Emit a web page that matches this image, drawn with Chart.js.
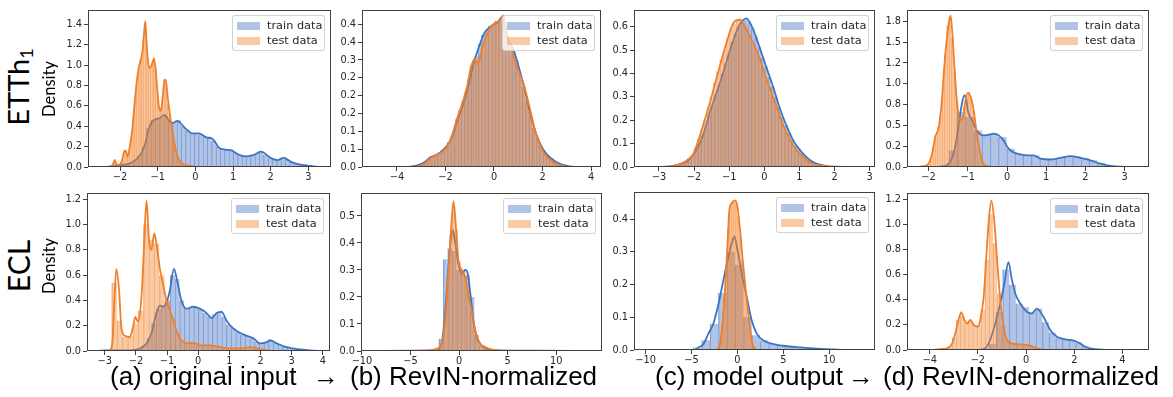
<!DOCTYPE html>
<html>
<head>
<meta charset="utf-8">
<script src="https://cdn.jsdelivr.net/npm/chart.js@4.4.0/dist/chart.umd.min.js"></script>
<style>
  html, body { margin: 0; padding: 0; background: #fff; }
  #page { position: relative; width: 1173px; height: 397px; overflow: hidden; }
  #page canvas { position: absolute; }
  .legend { position: absolute; width: 91px; height: 34px; border: 1px solid rgba(200,200,200,0.8); border-radius: 3px;
            background: rgba(255,255,255,0.8); font-family: "DejaVu Sans", sans-serif; font-size: 11.3px; color: #262626; }
  .legend .sw { position: absolute; left: 4px; width: 23px; height: 8px; }
  .legend .tx { position: absolute; left: 34px; line-height: 13px; white-space: nowrap; }
  .side { position: absolute; white-space: nowrap; font-family: Lato, "Open Sans", sans-serif; color: #000; transform: translate(-50%, -50%) rotate(-90deg); }
  .cap { position: absolute; top: 363px; font-family: "Liberation Sans", Arial, sans-serif; font-size: 26px; line-height: 26px; white-space: nowrap; color: #000; }
</style>
</head>
<body>
<div id="page"></div>
<script>
// ---------- data ----------
const seriesNames = ['train data', 'test data'];

// ETTh1 (a) original input
const p1XTicks = [-2, -1, 0, 1, 2, 3];
const p1YTicks = [0, 0.2, 0.4, 0.6, 0.8, 1.0, 1.2, 1.4];
const p1TrainStart = -2.45, p1TrainStep = 0.115;
const p1TrainHist = [0.003, 0.005, 0.01, 0.015, 0.02, 0.03, 0.04, 0.07, 0.12, 0.2, 0.38, 0.46, 0.47, 0.48, 0.5, 0.45, 0.44, 0.46, 0.4, 0.36,
  0.33, 0.33, 0.32, 0.3, 0.29, 0.26, 0.2, 0.18, 0.17, 0.16, 0.15, 0.12, 0.11, 0.11, 0.12, 0.14, 0.15, 0.12, 0.09, 0.08,
  0.07, 0.09, 0.08, 0.05, 0.03, 0.025, 0.02, 0.015, 0.01, 0.005];
const p1TestStart = -2.22, p1TestStep = 0.046;
const p1TestHist = [0.02, 0.06, 0.05, 0.02, 0.03, 0.05, 0.08, 0.15, 0.17, 0.1, 0.2, 0.3, 0.48, 0.65, 0.82, 0.95, 1.05, 1.1, 1.25, 1.4,
  1.15, 1.0, 0.98, 1.02, 1.08, 0.95, 0.72, 0.58, 0.56, 0.7, 0.85, 0.82, 0.62, 0.52, 0.4, 0.3, 0.2, 0.12, 0.08, 0.05,
  0.04, 0.03, 0.02, 0.02, 0.01, 0.01, 0.01, 0.005, 0.003, 0.002];
const p1TrainKde = [[-2.5,0],[-2.3,0.004],[-2.14,0.01],[-1.95,0.02],[-1.78,0.03],[-1.6,0.065],[-1.48,0.11],[-1.4,0.16],[-1.33,0.23],[-1.25,0.36],
  [-1.16,0.44],[-1.05,0.47],[-0.95,0.48],[-0.82,0.51],[-0.71,0.46],[-0.6,0.43],[-0.5,0.45],[-0.42,0.44],[-0.3,0.39],[-0.18,0.35],[-0.09,0.33],
  [0.09,0.33],[0.2,0.31],[0.3,0.29],[0.44,0.28],[0.55,0.23],[0.62,0.19],[0.8,0.17],[0.98,0.16],[1.1,0.13],[1.2,0.115],[1.33,0.105],[1.51,0.115],
  [1.62,0.13],[1.73,0.15],[1.8,0.145],[1.9,0.115],[2.05,0.08],[2.18,0.068],[2.3,0.085],[2.36,0.09],[2.45,0.07],[2.54,0.05],[2.65,0.035],
  [2.76,0.025],[3.02,0.012],[3.2,0.004],[3.35,0]];
const p1TestKde = [[-2.3,0],[-2.22,0.01],[-2.17,0.04],[-2.14,0.07],[-2.1,0.03],[-2.03,0.02],[-1.95,0.06],[-1.88,0.16],[-1.84,0.15],[-1.8,0.1],
  [-1.74,0.2],[-1.68,0.35],[-1.62,0.6],[-1.56,0.82],[-1.5,0.98],[-1.45,1.05],[-1.4,1.15],[-1.36,1.32],[-1.33,1.43],[-1.3,1.25],[-1.26,1.05],
  [-1.21,0.97],[-1.16,1.0],[-1.1,1.06],[-1.06,0.98],[-1.02,0.8],[-0.97,0.6],[-0.92,0.55],[-0.87,0.68],[-0.82,0.86],[-0.78,0.84],[-0.73,0.67],
  [-0.67,0.5],[-0.6,0.33],[-0.54,0.2],[-0.47,0.1],[-0.4,0.05],[-0.3,0.025],[-0.2,0.015],[-0.1,0.008],[0,0.003],[0.1,0]];

// ETTh1 (b) RevIN-normalized
const p2XTicks = [-4, -2, 0, 2, 4];
const p2YTicks = [0, 0.05, 0.1, 0.15, 0.2, 0.25, 0.3, 0.35, 0.4];
const p2YLabels = ['0.0', '0.1', '0.1', '0.2', '0.2', '0.2', '0.3', '0.4', '0.4'];
const p2TrainStart = -3.6, p2TrainStep = 0.14;
const p2TrainHist = [0.001, 0.002, 0.003, 0.006, 0.01, 0.016, 0.022, 0.03, 0.034, 0.04, 0.048, 0.056, 0.07, 0.09, 0.118, 0.145, 0.175, 0.205, 0.245, 0.285,
  0.31, 0.345, 0.37, 0.38, 0.395, 0.4, 0.41, 0.41, 0.4, 0.37, 0.345, 0.325, 0.3, 0.26, 0.225, 0.185, 0.145, 0.11, 0.085, 0.06,
  0.045, 0.033, 0.024, 0.016, 0.01, 0.007, 0.004, 0.002, 0.001, 0.001];
const p2TestStart = -3.15, p2TestStep = 0.12;
const p2TestHist = [0.002, 0.005, 0.01, 0.016, 0.024, 0.03, 0.034, 0.038, 0.044, 0.05, 0.062, 0.08, 0.1, 0.135, 0.16, 0.185, 0.21, 0.245, 0.285, 0.305,
  0.295, 0.315, 0.345, 0.37, 0.385, 0.395, 0.405, 0.405, 0.415, 0.42, 0.385, 0.345, 0.315, 0.3, 0.27, 0.25, 0.23, 0.19, 0.16, 0.13,
  0.1, 0.075, 0.055, 0.04, 0.03, 0.02, 0.015, 0.01, 0.006, 0.003];
const p2TrainKde = [[-3.6,0],[-3.2,0.004],[-2.9,0.012],[-2.6,0.028],[-2.35,0.035],[-2.0,0.054],[-1.75,0.08],[-1.53,0.125],[-1.3,0.17],[-1.1,0.214],
  [-0.84,0.29],[-0.6,0.34],[-0.4,0.375],[-0.2,0.39],[0,0.4],[0.15,0.405],[0.33,0.42],[0.45,0.385],[0.6,0.355],[0.81,0.327],[1.0,0.285],
  [1.22,0.23],[1.5,0.148],[1.7,0.1],[1.91,0.064],[2.1,0.042],[2.32,0.026],[2.74,0.008],[3.1,0.002],[3.5,0]];
const p2TestKde = [[-3.2,0],[-2.9,0.008],[-2.6,0.025],[-2.35,0.035],[-2.0,0.05],[-1.75,0.085],[-1.53,0.134],[-1.3,0.18],[-1.1,0.228],[-0.95,0.28],
  [-0.78,0.303],[-0.65,0.29],[-0.5,0.33],[-0.3,0.37],[-0.1,0.395],[0.1,0.405],[0.25,0.41],[0.38,0.425],[0.5,0.39],[0.65,0.34],[0.81,0.31],
  [1.0,0.27],[1.22,0.233],[1.5,0.158],[1.7,0.1],[1.91,0.059],[2.1,0.035],[2.32,0.02],[2.6,0.008],[2.9,0.002],[3.1,0]];

// ETTh1 (c) model output
const p3XTicks = [-3, -2, -1, 0, 1, 2, 3];
const p3YTicks = [0, 0.1, 0.2, 0.3, 0.4, 0.5, 0.6];
const p3TrainStart = -2.75, p3TrainStep = 0.095;
const p3TrainHist = [0.003, 0.004, 0.006, 0.01, 0.016, 0.024, 0.033, 0.045, 0.07, 0.1, 0.135, 0.17, 0.22, 0.26, 0.31, 0.35, 0.4, 0.445, 0.49, 0.535,
  0.57, 0.605, 0.625, 0.63, 0.62, 0.595, 0.56, 0.515, 0.47, 0.43, 0.385, 0.345, 0.3, 0.255, 0.215, 0.18, 0.145, 0.115, 0.092, 0.072,
  0.057, 0.043, 0.03, 0.021, 0.015, 0.01, 0.007, 0.004, 0.003, 0.002];
const p3TestStart = -2.65, p3TestStep = 0.092;
const p3TestHist = [0.004, 0.007, 0.011, 0.018, 0.026, 0.037, 0.05, 0.08, 0.12, 0.16, 0.2, 0.255, 0.3, 0.36, 0.41, 0.46, 0.5, 0.55, 0.59, 0.615,
  0.63, 0.63, 0.61, 0.59, 0.56, 0.52, 0.49, 0.455, 0.415, 0.375, 0.335, 0.3, 0.26, 0.22, 0.18, 0.15, 0.12, 0.097, 0.076, 0.058,
  0.045, 0.033, 0.024, 0.016, 0.011, 0.008, 0.005, 0.004, 0.002, 0.001];
const p3TrainKde = [[-3.0,0],[-2.7,0.003],[-2.5,0.008],[-2.32,0.016],[-2.15,0.03],[-2.03,0.05],[-1.84,0.1],[-1.7,0.155],[-1.56,0.23],[-1.4,0.3],
  [-1.27,0.357],[-1.1,0.44],[-0.89,0.54],[-0.7,0.61],[-0.51,0.636],[-0.35,0.6],[-0.13,0.51],[0.05,0.43],[0.25,0.343],[0.4,0.27],[0.53,0.214],
  [0.68,0.16],[0.82,0.114],[0.95,0.085],[1.1,0.057],[1.25,0.036],[1.39,0.021],[1.55,0.011],[1.77,0.004],[2.0,0.001],[2.4,0]];
const p3TestKde = [[-3.0,0],[-2.6,0.004],[-2.32,0.018],[-2.15,0.035],[-2.03,0.054],[-1.84,0.13],[-1.7,0.2],[-1.56,0.27],[-1.4,0.36],[-1.27,0.43],
  [-1.1,0.52],[-0.89,0.614],[-0.7,0.631],[-0.55,0.6],[-0.35,0.54],[-0.13,0.464],[0.05,0.38],[0.25,0.3],[0.4,0.235],[0.53,0.18],[0.68,0.13],
  [0.82,0.093],[0.95,0.065],[1.1,0.043],[1.25,0.026],[1.39,0.014],[1.6,0.006],[1.9,0.002],[2.3,0]];

// ETTh1 (d) RevIN-denormalized
const p4XTicks = [-2, -1, 0, 1, 2, 3];
const p4YTicks = [0, 0.25, 0.5, 0.75, 1.0, 1.25, 1.5, 1.75];
const p4YLabels = ['0.0', '0.2', '0.5', '0.8', '1.0', '1.2', '1.5', '1.8'];
const p4TrainStart = -1.69, p4TrainStep = 0.21;
const p4TrainHist = [0.02, 0.2, 0.66, 0.6, 0.44, 0.39, 0.4, 0.36, 0.22, 0.16, 0.14, 0.14, 0.1, 0.09, 0.11, 0.13, 0.13, 0.11, 0.08, 0.05,
  0.02, 0.008, 0.004, 0.002];
const p4TestStart = -2.2, p4TestStep = 0.06;
const p4TestHist = [0.005, 0.01, 0.02, 0.05, 0.12, 0.25, 0.38, 0.48, 0.62, 0.95, 1.35, 1.7, 1.8, 1.55, 1.15, 0.78, 0.58, 0.56, 0.72, 0.85,
  0.9, 0.82, 0.68, 0.45, 0.25, 0.12, 0.05, 0.02, 0.01, 0.005];
const p4TrainKde = [[-1.8,0],[-1.62,0.01],[-1.45,0.06],[-1.32,0.24],[-1.23,0.52],[-1.15,0.76],[-1.09,0.86],[-1.04,0.82],[-1.0,0.68],[-0.89,0.56],
  [-0.77,0.44],[-0.6,0.38],[-0.45,0.39],[-0.34,0.4],[-0.21,0.38],[-0.09,0.32],[0.04,0.22],[0.15,0.18],[0.26,0.16],[0.51,0.14],[0.68,0.14],
  [0.85,0.1],[1.1,0.09],[1.36,0.11],[1.62,0.13],[1.87,0.11],[2.13,0.08],[2.38,0.04],[2.64,0.012],[2.89,0.003],[3.3,0]];
const p4TestKde = [[-2.3,0],[-2.13,0.01],[-2.0,0.04],[-1.91,0.16],[-1.83,0.36],[-1.74,0.48],[-1.66,0.8],[-1.6,1.2],[-1.53,1.56],[-1.48,1.74],
  [-1.44,1.82],[-1.4,1.65],[-1.34,1.2],[-1.28,0.8],[-1.19,0.56],[-1.12,0.6],[-1.06,0.8],[-1.0,0.89],[-0.94,0.86],[-0.85,0.68],[-0.77,0.4],
  [-0.68,0.16],[-0.6,0.04],[-0.47,0.008],[-0.34,0]];

// ECL (a) original input
const p5XTicks = [-3, -2, -1, 0, 1, 2, 3, 4];
const p5YTicks = [0, 0.2, 0.4, 0.6, 0.8, 1.0, 1.2];
const p5TrainStart = -3.3, p5TrainStep = 0.15;
const p5TrainHist = [0.002, 0.003, 0.003, 0.004, 0.004, 0.005, 0.006, 0.008, 0.012, 0.02, 0.045, 0.1, 0.22, 0.33, 0.36, 0.4, 0.6, 0.57, 0.4, 0.34,
  0.35, 0.34, 0.33, 0.3, 0.27, 0.29, 0.31, 0.27, 0.21, 0.18, 0.15, 0.13, 0.12, 0.1, 0.075, 0.06, 0.07, 0.085, 0.065, 0.05,
  0.035, 0.025, 0.018, 0.013, 0.009, 0.005, 0.003, 0.002];
const p5TestStart = -2.78, p5TestStep = 0.17;
const p5TestHist = [0.54, 0.24, 0.11, 0.12, 0.22, 0.32, 1.0, 0.88, 0.85, 0.6, 0.4, 0.26, 0.14, 0.08, 0.06, 0.06, 0.05, 0.045, 0.045, 0.04,
  0.03, 0.025, 0.02, 0.02, 0.02, 0.025, 0.03, 0.02, 0.01, 0.005];
const p5TrainKde = [[-3.3,0],[-3.0,0.004],[-2.3,0.005],[-1.88,0.02],[-1.66,0.06],[-1.5,0.14],[-1.34,0.3],[-1.23,0.36],[-1.13,0.35],[-1.02,0.38],
  [-0.91,0.48],[-0.78,0.65],[-0.68,0.56],[-0.54,0.4],[-0.38,0.335],[-0.16,0.35],[0.05,0.335],[0.27,0.3],[0.43,0.26],[0.59,0.3],[0.75,0.31],
  [0.91,0.24],[1.07,0.19],[1.29,0.15],[1.5,0.125],[1.77,0.1],[1.98,0.06],[2.2,0.07],[2.3,0.085],[2.52,0.06],[2.84,0.03],[3.27,0.013],
  [3.7,0.003],[3.9,0]];
const p5TestKde = [[-2.9,0],[-2.84,0.005],[-2.75,0.08],[-2.7,0.35],[-2.63,0.65],[-2.54,0.48],[-2.47,0.19],[-2.36,0.12],[-2.2,0.11],[-2.09,0.19],
  [-2.02,0.27],[-1.93,0.23],[-1.82,0.43],[-1.74,0.82],[-1.66,1.19],[-1.58,0.88],[-1.5,0.8],[-1.41,0.93],[-1.34,0.85],[-1.23,0.65],[-1.13,0.53],
  [-1.02,0.4],[-0.91,0.32],[-0.8,0.24],[-0.7,0.16],[-0.54,0.085],[-0.38,0.06],[-0.16,0.065],[0.05,0.045],[0.38,0.045],[0.7,0.03],[1.02,0.02],
  [1.34,0.02],[1.66,0.03],[1.88,0.02],[2.2,0.005],[2.52,0]];

// ECL (b) RevIN-normalized
const p6XTicks = [-10, -5, 0, 5, 10];
const p6YTicks = [0, 0.1, 0.2, 0.3, 0.4, 0.5];
const p6TrainStart = -2.56, p6TrainStep = 0.46;
const p6TrainHist = [0.003, 0.045, 0.34, 0.38, 0.37, 0.3, 0.3, 0.28, 0.2, 0.06, 0.02, 0.008, 0.003];
const p6TestStart = -3.1, p6TestStep = 0.3;
const p6TestHist = [0.002, 0.004, 0.008, 0.015, 0.04, 0.12, 0.27, 0.43, 0.54, 0.45, 0.33, 0.3, 0.28, 0.22, 0.15, 0.09, 0.05, 0.03, 0.02, 0.013,
  0.008, 0.005, 0.003, 0.001];
const p6TrainKde = [[-9.2,0],[-5,0.001],[-2.3,0.002],[-1.79,0.03],[-1.44,0.14],[-1.2,0.26],[-0.93,0.385],[-0.65,0.447],[-0.41,0.4],[-0.07,0.32],
  [0.27,0.286],[0.62,0.3],[0.86,0.29],[1.13,0.22],[1.48,0.11],[1.82,0.05],[2.34,0.02],[2.85,0.008],[3.88,0.002],[8,0.001],[13.6,0]];
const p6TestKde = [[-4.5,0],[-3.33,0.002],[-1.96,0.015],[-1.44,0.11],[-1.1,0.29],[-0.86,0.435],[-0.58,0.555],[-0.31,0.447],[-0.07,0.336],[0.27,0.3],
  [0.62,0.274],[0.96,0.21],[1.31,0.14],[1.65,0.077],[2.16,0.027],[2.68,0.015],[3.2,0.007],[4.23,0.001],[5,0]];

// ECL (c) model output
const p7XTicks = [-10, -5, 0, 5, 10];
const p7YTicks = [0, 0.1, 0.2, 0.3, 0.4];
const p7TrainStart = -4.8, p7TrainStep = 0.91;
const p7TrainHist = [0.008, 0.03, 0.08, 0.175, 0.3, 0.26, 0.1, 0.045, 0.03, 0.02, 0.015, 0.012, 0.009, 0.007, 0.005, 0.003, 0.002, 0.001, 0.001];
const p7TestStart = -2.2, p7TestStep = 0.22;
const p7TestHist = [0.003, 0.02, 0.08, 0.16, 0.26, 0.37, 0.44, 0.45, 0.455, 0.45, 0.41, 0.35, 0.28, 0.22, 0.16, 0.1, 0.05, 0.02, 0.006, 0.002];
const p7TrainKde = [[-4.62,0],[-4.25,0.008],[-3.7,0.018],[-3.16,0.05],[-2.62,0.08],[-2.07,0.14],[-1.53,0.213],[-0.98,0.285],[-0.62,0.326],
  [-0.33,0.347],[0,0.306],[0.47,0.234],[1.02,0.162],[1.56,0.09],[2.11,0.05],[2.84,0.029],[3.93,0.018],[5.02,0.013],[6.84,0.008],[8.65,0.004],
  [10.47,0.002],[11.93,0]];
const p7TestKde = [[-2.25,0],[-1.89,0.018],[-1.6,0.09],[-1.35,0.183],[-1.09,0.316],[-0.87,0.43],[-0.62,0.449],[-0.25,0.457],[0,0.439],[0.29,0.367],
  [0.58,0.275],[0.91,0.183],[1.27,0.09],[1.56,0.029],[1.93,0.003],[2.29,0]];

// ECL (d) RevIN-denormalized
const p8XTicks = [-4, -2, 0, 2, 4];
const p8YTicks = [0, 0.2, 0.4, 0.6, 0.8, 1.0, 1.2];
const p8TrainStart = -1.8, p8TrainStep = 0.275;
const p8TrainHist = [0.01, 0.05, 0.3, 0.64, 0.52, 0.37, 0.34, 0.3, 0.33, 0.22, 0.14, 0.1, 0.085, 0.08, 0.06, 0.03, 0.01, 0.004, 0.002];
const p8TestStart = -3.75, p8TestStep = 0.17;
const p8TestHist = [0.004, 0.008, 0.012, 0.03, 0.1, 0.24, 0.27, 0.22, 0.23, 0.2, 0.2, 0.32, 0.72, 1.08, 0.85, 0.45, 0.2, 0.08, 0.055, 0.05,
  0.045, 0.04, 0.035, 0.03, 0.015, 0.006, 0.002];
const p8TrainKde = [[-2.04,0],[-1.69,0.013],[-1.49,0.08],[-1.28,0.21],[-1.07,0.37],[-0.9,0.53],[-0.73,0.7],[-0.59,0.56],[-0.45,0.45],[-0.24,0.37],
  [0.03,0.305],[0.24,0.29],[0.45,0.33],[0.59,0.305],[0.79,0.24],[1.0,0.16],[1.28,0.106],[1.62,0.085],[1.97,0.074],[2.24,0.053],[2.45,0.026],
  [2.8,0.008],[3.35,0]];
const p8TestKde = [[-3.9,0],[-3.69,0.005],[-3.28,0.013],[-3.07,0.05],[-2.94,0.13],[-2.8,0.24],[-2.69,0.3],[-2.56,0.24],[-2.45,0.21],[-2.31,0.24],
  [-2.17,0.2],[-2.01,0.185],[-1.9,0.24],[-1.76,0.42],[-1.65,0.74],[-1.56,1.0],[-1.44,1.19],[-1.32,1.03],[-1.21,0.74],[-1.07,0.4],[-0.93,0.185],
  [-0.79,0.08],[-0.59,0.053],[-0.24,0.045],[0.17,0.034],[0.45,0.013],[0.72,0.003],[1.0,0]];

// ---------- styling ----------
const BLUE_FILL = 'rgba(68,114,196,0.42)';
const BLUE_EDGE = 'rgba(68,114,196,0.55)';
const BLUE_LINE = '#3d74c2';
const ORANGE_FILL = 'rgba(242,128,40,0.42)';
const ORANGE_EDGE = 'rgba(242,128,40,0.5)';
const ORANGE_LINE = '#ef7f2a';
const FRAME = '#404040';
const TICK_TEXT = '#262626';
const TICK_FONT = { family: 'DejaVu Sans', size: 9.8 };

// plot boxes [left, top, right, bottom] in page pixels
const panels = [
  { box: [88, 10, 331, 167], xMin: -2.85, xMax: 3.6, yMax: 1.54, xTicks: p1XTicks, yTicks: p1YTicks,
    train: [p1TrainStart, p1TrainStep, p1TrainHist, p1TrainKde], test: [p1TestStart, p1TestStep, p1TestHist, p1TestKde] },
  { box: [362, 10, 601, 167], xMin: -5.44, xMax: 4.41, yMax: 0.44, xTicks: p2XTicks, yTicks: p2YTicks, yLabels: p2YLabels,
    train: [p2TrainStart, p2TrainStep, p2TrainHist, p2TrainKde], test: [p2TestStart, p2TestStep, p2TestHist, p2TestKde] },
  { box: [634, 10, 875, 167], xMin: -3.71, xMax: 3.15, yMax: 0.672, xTicks: p3XTicks, yTicks: p3YTicks,
    train: [p3TrainStart, p3TrainStep, p3TrainHist, p3TrainKde], test: [p3TestStart, p3TestStep, p3TestHist, p3TestKde] },
  { box: [907, 10, 1149, 167], xMin: -2.55, xMax: 3.62, yMax: 1.887, xTicks: p4XTicks, yTicks: p4YTicks, yLabels: p4YLabels,
    train: [p4TrainStart, p4TrainStep, p4TrainHist, p4TrainKde], test: [p4TestStart, p4TestStep, p4TestHist, p4TestKde] },
  { box: [87, 193, 330, 351], xMin: -3.57, xMax: 4.23, yMax: 1.25, xTicks: p5XTicks, yTicks: p5YTicks,
    train: [p5TrainStart, p5TrainStep, p5TrainHist, p5TrainKde], test: [p5TestStart, p5TestStep, p5TestHist, p5TestKde] },
  { box: [361, 193, 602, 351], xMin: -10.1, xMax: 14.7, yMax: 0.585, xTicks: p6XTicks, yTicks: p6YTicks,
    train: [p6TrainStart, p6TrainStep, p6TrainHist, p6TrainKde], test: [p6TestStart, p6TestStep, p6TestHist, p6TestKde] },
  { box: [634, 192, 875, 350], xMin: -11.27, xMax: 15.0, yMax: 0.483, xTicks: p7XTicks, yTicks: p7YTicks,
    train: [p7TrainStart, p7TrainStep, p7TrainHist, p7TrainKde], test: [p7TestStart, p7TestStep, p7TestHist, p7TestKde] },
  { box: [907, 193, 1149, 350], xMin: -4.94, xMax: 5.1, yMax: 1.25, xTicks: p8XTicks, yTicks: p8YTicks,
    train: [p8TrainStart, p8TrainStep, p8TrainHist, p8TrainKde], test: [p8TestStart, p8TestStep, p8TestHist, p8TestKde] }
];

const page = document.getElementById('page');

// matplotlib style frame around the plot area
const framePlugin = {
  id: 'frame',
  afterDraw(chart) {
    const a = chart.chartArea, ctx = chart.ctx;
    ctx.save();
    ctx.strokeStyle = FRAME;
    ctx.lineWidth = 1;
    ctx.strokeRect(a.left + 0.5, a.top + 0.5, a.right - a.left - 1, a.bottom - a.top - 1);
    ctx.restore();
  }
};

function histPoints(start, step, values) {
  return values.map((v, i) => ({ x: start + step * (i + 0.5), y: v }));
}

function kdePoints(pairs) {
  return pairs.map(p => ({ x: p[0], y: p[1] }));
}

function fmtX(v) {
  return String(v).replace('-', '\u2212');
}

function makePanel(p) {
  const [l, t, r, b] = p.box;
  const padL = 45, padT = 6, padR = 14, padB = 20;
  const canvas = document.createElement('canvas');
  canvas.width = (r - l) + padL + padR;
  canvas.height = (b - t) + padT + padB;
  canvas.style.left = (l - padL) + 'px';
  canvas.style.top = (t - padT) + 'px';
  page.appendChild(canvas);

  const barCommon = { type: 'bar', grouped: false, barPercentage: 1, categoryPercentage: 1,
    borderWidth: { left: 0.6, right: 0, top: 0, bottom: 0 }, borderSkipped: false };

  new Chart(canvas.getContext('2d'), {
    type: 'bar',
    data: {
      datasets: [
        Object.assign({}, barCommon, { label: seriesNames[0], data: histPoints(p.train[0], p.train[1], p.train[2]),
          xAxisID: 'x', backgroundColor: BLUE_FILL, borderColor: BLUE_EDGE, order: 4 }),
        { type: 'line', data: kdePoints(p.train[3]), xAxisID: 'x', borderColor: BLUE_LINE, borderWidth: 1.8,
          pointRadius: 0, cubicInterpolationMode: 'monotone', fill: false, order: 3 },
        Object.assign({}, barCommon, { label: seriesNames[1], data: histPoints(p.test[0], p.test[1], p.test[2]),
          xAxisID: 'xt', backgroundColor: ORANGE_FILL, borderColor: ORANGE_EDGE, order: 2 }),
        { type: 'line', data: kdePoints(p.test[3]), xAxisID: 'x', borderColor: ORANGE_LINE, borderWidth: 1.8,
          pointRadius: 0, cubicInterpolationMode: 'monotone', fill: false, order: 1 }
      ]
    },
    options: {
      responsive: false,
      animation: false,
      devicePixelRatio: 1,
      layout: { padding: { left: 0, top: padT, right: padR, bottom: 0 } },
      plugins: { legend: { display: false }, tooltip: { enabled: false } },
      scales: {
        x: {
          type: 'linear', min: p.xMin, max: p.xMax, offset: false,
          afterBuildTicks: ax => { ax.ticks = p.xTicks.map(v => ({ value: v })); },
          afterFit: s => { s.height = padB; s.paddingLeft = 0; s.paddingRight = 0; },
          ticks: { callback: v => fmtX(v), font: TICK_FONT, color: TICK_TEXT, padding: 1, maxRotation: 0, autoSkip: false },
          grid: { display: true, drawOnChartArea: false, offset: false, tickLength: 4, tickColor: FRAME },
          border: { display: false }
        },
        xt: {
          type: 'linear', min: p.xMin, max: p.xMax, offset: false, display: false,
          afterFit: s => { s.height = 0; s.paddingLeft = 0; s.paddingRight = 0; }
        },
        y: {
          type: 'linear', min: 0, max: p.yMax,
          afterBuildTicks: ax => { ax.ticks = p.yTicks.map(v => ({ value: v })); },
          afterFit: s => { s.width = padL; s.paddingTop = 0; s.paddingBottom = 0; },
          ticks: { callback: (v, i) => p.yLabels ? p.yLabels[i] : v.toFixed(1), font: TICK_FONT, color: TICK_TEXT, padding: 2, autoSkip: false },
          grid: { display: true, drawOnChartArea: false, tickLength: 4, tickColor: FRAME },
          border: { display: false }
        }
      }
    },
    plugins: [framePlugin]
  });

  // legend in the upper right corner of the plot box
  const lg = document.createElement('div');
  lg.className = 'legend';
  lg.style.left = (r - 99) + 'px';
  lg.style.top = (t + 5) + 'px';
  lg.innerHTML =
    '<span class="sw" style="top:6px;background:' + BLUE_FILL + '"></span><span class="tx" style="top:3px">' + seriesNames[0] + '</span>' +
    '<span class="sw" style="top:21px;background:' + ORANGE_FILL + '"></span><span class="tx" style="top:18px">' + seriesNames[1] + '</span>';
  page.appendChild(lg);
}

panels.forEach(makePanel);

// row titles and axis titles
function sideText(html, cx, cy, size) {
  const d = document.createElement('div');
  d.className = 'side';
  d.style.left = cx + 'px';
  d.style.top = cy + 'px';
  d.style.fontSize = size + 'px';
  d.style.lineHeight = size + 'px';
  d.innerHTML = html;
  page.appendChild(d);
}
sideText('ETTh<sub style="font-size:0.62em;vertical-align:-0.22em">1</sub>', 22, 87, 29);
sideText('Density', 48.5, 89, 16.5);
sideText('ECL', 18, 266, 30);
sideText('Density', 48.5, 266, 16.5);

// captions under the columns
function caption(text, left) {
  const d = document.createElement('div');
  d.className = 'cap';
  d.style.left = left + 'px';
  d.textContent = text;
  page.appendChild(d);
}
caption('(a) original input', 110);
caption('\u2192', 313);
caption('(b) RevIN-normalized', 350);
caption('(c) model output', 655);
caption('\u2192', 848);
caption('(d) RevIN-denormalized', 883);
</script>
</body>
</html>
